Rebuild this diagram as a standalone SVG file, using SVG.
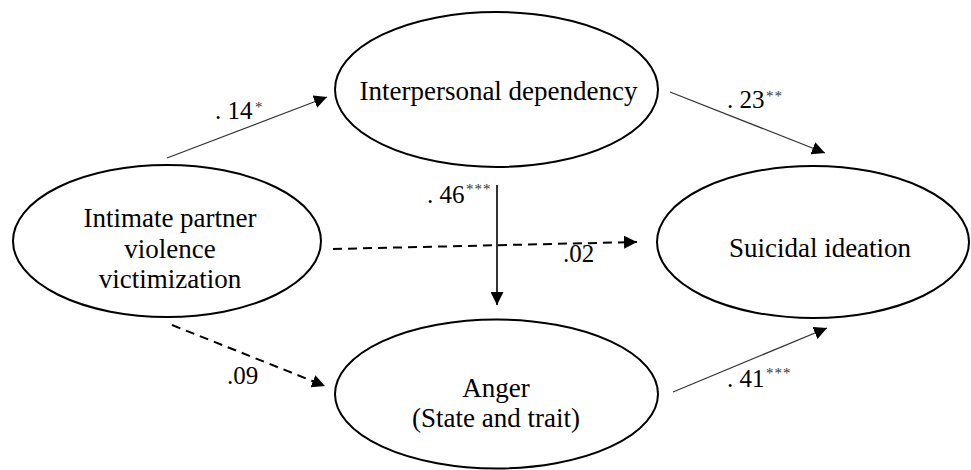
<svg xmlns="http://www.w3.org/2000/svg" width="971" height="470" viewBox="0 0 971 470">
<style>
.node ellipse{fill:#fff;stroke:#000;stroke-width:2}
.node text,.lbl{font-family:"Liberation Serif","Times New Roman",serif;fill:#000}
.node text{font-size:27px;text-anchor:middle}
.lbl{font-size:25px}
.sup{font-size:15px;letter-spacing:1px;fill:#333}
.solid{stroke:#333;stroke-width:1.2;fill:none}
.vert{stroke:#000;stroke-width:1.6;fill:none}
.dash{stroke:#000;stroke-width:2;stroke-dasharray:9 6;fill:none}
</style>
<defs>
<marker id="ah" markerUnits="userSpaceOnUse" markerWidth="14" markerHeight="13" refX="13" refY="6.5" orient="auto">
<path d="M0,0 L13,6.5 L0,13 z" fill="#000"/>
</marker>
</defs>
<rect width="971" height="470" fill="#fff"/>
<g id="connectors">
<line class="solid" x1="167" y1="158" x2="327" y2="97" marker-end="url(#ah)"/>
<line class="solid" x1="670" y1="92" x2="825" y2="153" marker-end="url(#ah)"/>
<line class="solid" x1="673" y1="392" x2="827" y2="328" marker-end="url(#ah)"/>
<line class="vert" x1="497" y1="185" x2="497" y2="305" marker-end="url(#ah)"/>
<line class="dash" x1="333" y1="249" x2="637" y2="242" marker-end="url(#ah)"/>
<line class="dash" x1="172" y1="325" x2="325" y2="386" marker-end="url(#ah)"/>
</g>
<g id="labels">
<text class="lbl" x="215" y="119">. 14<tspan class="sup" x="255" y="112">*</tspan></text>
<text class="lbl" x="727" y="108">. 23<tspan class="sup" x="766" y="101">**</tspan></text>
<text class="lbl" x="427" y="203">. 46<tspan class="sup" x="466" y="194">***</tspan></text>
<text class="lbl" x="563" y="262">.02</text>
<text class="lbl" x="227" y="384">.09</text>
<text class="lbl" x="727" y="387">. 41<tspan class="sup" x="766" y="378">***</tspan></text>
</g>
<g id="ipv" class="node">
<ellipse cx="167" cy="241" rx="154" ry="76"/>
<text x="170" y="227">Intimate partner</text>
<text x="170" y="258">violence</text>
<text x="170" y="288">victimization</text>
</g>
<g id="dependency" class="node">
<ellipse cx="496.5" cy="89.5" rx="161.5" ry="77.5"/>
<text x="498.5" y="100">Interpersonal dependency</text>
</g>
<g id="suicidal" class="node">
<ellipse cx="813" cy="242" rx="156" ry="76"/>
<text x="820" y="257">Suicidal ideation</text>
</g>
<g id="anger" class="node">
<ellipse cx="496.5" cy="394" rx="161.5" ry="74.5"/>
<text x="496" y="397">Anger</text>
<text x="496" y="427">(State and trait)</text>
</g>
</svg>
